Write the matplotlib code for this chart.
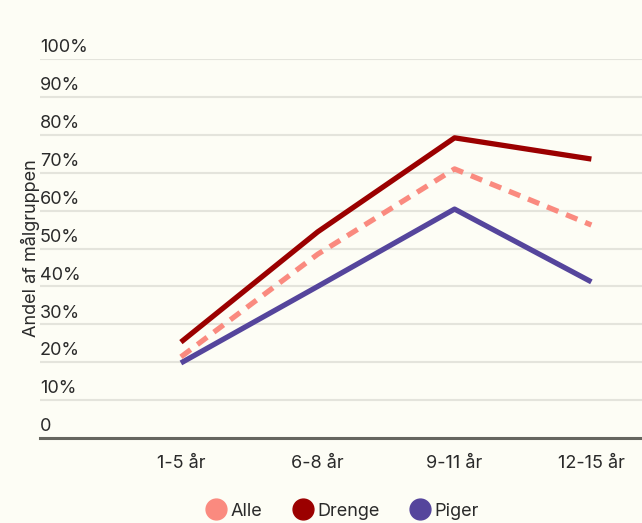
import numpy as np
import matplotlib.pyplot as plt
from matplotlib.lines import Line2D
import matplotlib.transforms as mtransforms

plt.rcParams['font.family'] = ['Inter', 'DejaVu Sans']

categories = ['1-5 år', '6-8 år', '9-11 år', '12-15 år']
alle = [21.4, 48.5, 71.0, 56.2]
drenge = [25.3, 54.4, 79.2, 73.6]
piger = [19.8, 40.0, 60.4, 41.2]
yticks = [0, 10, 20, 30, 40, 50, 60, 70, 80, 90, 100]
ytick_labels = ['0'] + [f'{v}%' for v in yticks[1:]]

bg = '#fdfdf5'
c_alle = '#fa8a7f'
c_drenge = '#9b0000'
c_piger = '#55459c'
txt = '#2a2a2a'

fig = plt.figure(figsize=(6.42, 5.23), dpi=100, facecolor=bg)
W, H = 642, 523
ax = fig.add_axes([40 / W, 1 - 438 / H, (642 - 40) / W, (438 - 59) / H])
ax.set_facecolor(bg)

x = np.arange(len(categories))
ax.plot(x, drenge, color=c_drenge, lw=3.8, solid_capstyle='butt', zorder=3)
ax.plot(x, piger, color=c_piger, lw=3.8, solid_capstyle='butt', zorder=3)
ax.plot(x, alle, color=c_alle, lw=3.8, dashes=(2.3, 1.6), zorder=4)

ax.set_xlim(-1.03, 3.37)
ax.set_ylim(0, 100)

for s in ax.spines.values():
    s.set_visible(False)
ax.axhline(0, color='#66665f', lw=2.2, zorder=5, clip_on=False)
for v in yticks[1:]:
    ax.axhline(v, color='#e4e4dc', lw=1.5, zorder=1)

# y labels sit just above their gridline
ax.set_yticks([])
trans = mtransforms.blended_transform_factory(ax.transAxes, ax.transData) + \
    mtransforms.ScaledTranslation(0, 2 / 72, fig.dpi_scale_trans)
for v, lab in zip(yticks, ytick_labels):
    ax.text(0.0, v, lab, transform=trans, ha='left', va='bottom',
            fontsize=13, color=txt)

ax.set_xticks(x)
ax.set_xticklabels(categories, fontsize=13, color=txt)
ax.tick_params(axis='x', length=0, pad=12)

fig.text(30 / W, 1 - 248 / H, 'Andel af målgruppen', rotation=90, ha='center', va='center',
         fontsize=13, color=txt)

handles = [Line2D([], [], marker='o', ls='none', markersize=15, color=c, label=l)
           for c, l in zip([c_alle, c_drenge, c_piger], ['Alle', 'Drenge', 'Piger'])]
fig.legend(handles=handles, loc='center', bbox_to_anchor=(343 / W, 1 - 511 / H), ncol=3,
           frameon=False, fontsize=13, handlelength=1.0, handletextpad=0.3,
           columnspacing=1.75, labelcolor=txt)

fig.savefig('out.png', dpi=100, facecolor=bg)
